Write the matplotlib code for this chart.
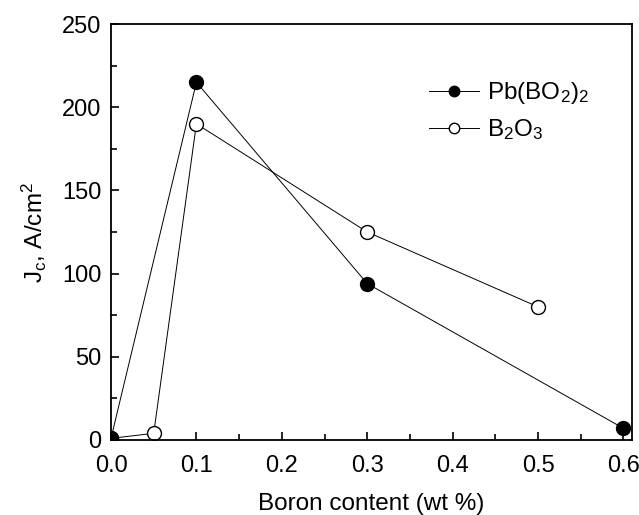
import matplotlib.pyplot as plt
from matplotlib.ticker import MultipleLocator

plt.rcParams['font.family'] = ['Liberation Sans', 'DejaVu Sans']
plt.rcParams['mathtext.default'] = 'regular'

# Pb(BO2)2 series
x_pb = [0.0, 0.1, 0.3, 0.6]
y_pb = [1, 215, 94, 7]

# B2O3 series
x_b = [0.0, 0.05, 0.1, 0.3, 0.5]
y_b = [1, 4, 190, 125, 80]

fig = plt.figure(figsize=(6.39, 5.15), dpi=100)
ax = fig.add_axes([111 / 639, 75 / 515, 521 / 639, 416 / 515])

ax.plot(x_b, y_b, '-o', color='black', lw=0.7, mfc='white', mec='black',
        ms=10, mew=1.0, label='B$_2$O$_3$', zorder=2)
ax.plot(x_pb, y_pb, '-o', color='black', lw=0.7, mfc='black', mec='black',
        ms=10, label='Pb(BO$_2$)$_2$', zorder=3)

ax.set_xlim(0, 0.61)
ax.set_ylim(0, 250)
ax.xaxis.set_major_locator(MultipleLocator(0.1))
ax.xaxis.set_minor_locator(MultipleLocator(0.05))
ax.yaxis.set_major_locator(MultipleLocator(50))
ax.yaxis.set_minor_locator(MultipleLocator(25))
ax.tick_params(which='both', direction='in', top=False, right=False, labelsize=17, width=1.2)
ax.tick_params(axis='x', pad=11)
ax.tick_params(axis='y', pad=7)
ax.tick_params(which='major', length=6)
ax.tick_params(which='minor', length=4)
ax.xaxis.set_major_formatter(plt.FormatStrFormatter('%.1f'))
for s in ax.spines.values():
    s.set_linewidth(1.3)

ax.set_xlabel('Boron content (wt %)', fontsize=17.5, labelpad=11)
ax.set_ylabel('J$_c$, A/cm$^2$', fontsize=17.5, labelpad=9)

h, l = ax.get_legend_handles_labels()
ax.legend(h[::-1], l[::-1], loc='upper left', bbox_to_anchor=(0.568, 0.917),
          frameon=False, fontsize=17.5, markerscale=0.75, handlelength=2.05,
          handletextpad=0.35, labelspacing=0.45)

fig.savefig('out.png', dpi=100)
